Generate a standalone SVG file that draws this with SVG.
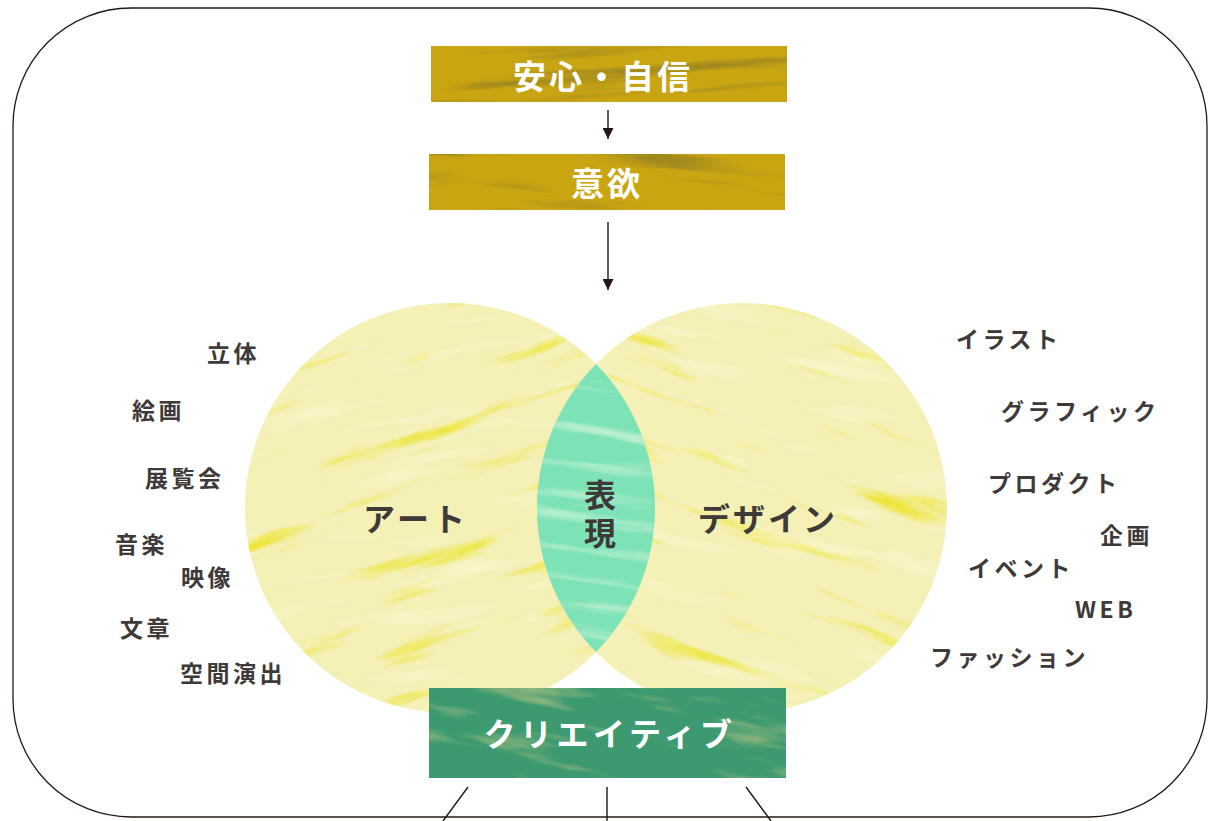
<svg xmlns="http://www.w3.org/2000/svg" width="1208" height="821" viewBox="0 0 1208 821">
  <defs>
    <style>
      .frame { fill: none; stroke: #231815; stroke-width: 1.3; }
      .conn { fill: none; stroke: #231815; stroke-width: 1.4; }
      .boxlabel { font-family: "Noto Sans CJK JP", "Noto Sans", sans-serif; font-weight: 700; fill: #ffffff; text-anchor: middle; dominant-baseline: central; }
      .mainlabel { font-family: "Noto Sans CJK JP", "Noto Sans", sans-serif; font-weight: 700; fill: #3e3a39; text-anchor: middle; dominant-baseline: central; }
      .side { font-family: "Noto Sans CJK JP", "Noto Sans", sans-serif; font-weight: 700; fill: #3e3a39; font-size: 23px; letter-spacing: 3.5px; dominant-baseline: central; }
      .kana { letter-spacing: 3.5px; }
    </style>
    <marker id="arrow" viewBox="0 0 10 10" refX="10" refY="5" markerWidth="11" markerHeight="11" markerUnits="userSpaceOnUse" orient="auto">
      <path d="M0,0 L10,5 L0,10 Z" fill="#231815"/>
    </marker>
    <filter id="texYellow" x="0" y="0" width="1" height="1" color-interpolation-filters="sRGB">
      <feTurbulence type="fractalNoise" baseFrequency="0.006 0.045" numOctaves="4" seed="7"/>
      <feColorMatrix type="matrix" values="0 0 0 0 0.93  0 0 0 0 0.90  0 0 0 0 0.22  4 0 0 0 -2.45"/>
      <feComposite in2="SourceGraphic" operator="in"/>
    </filter>
    <filter id="texLight" x="0" y="0" width="1" height="1" color-interpolation-filters="sRGB">
      <feTurbulence type="fractalNoise" baseFrequency="0.008 0.05" numOctaves="3" seed="21"/>
      <feColorMatrix type="matrix" values="0 0 0 0 0.99  0 0 0 0 0.98  0 0 0 0 0.86  3 0 0 0 -1.6"/>
      <feComposite in2="SourceGraphic" operator="in"/>
    </filter>
    <filter id="texGold" x="0" y="0" width="1" height="1" color-interpolation-filters="sRGB">
      <feTurbulence type="fractalNoise" baseFrequency="0.004 0.06" numOctaves="4" seed="4"/>
      <feColorMatrix type="matrix" values="0 0 0 0 0.58  0 0 0 0 0.50  0 0 0 0 0.13  3 0 0 0 -1.65"/>
      <feComposite in2="SourceGraphic" operator="in"/>
    </filter>
    <filter id="texMint" x="0" y="0" width="1" height="1" color-interpolation-filters="sRGB">
      <feTurbulence type="fractalNoise" baseFrequency="0.006 0.07" numOctaves="3" seed="11"/>
      <feColorMatrix type="matrix" values="0 0 0 0 0.72  0 0 0 0 0.94  0 0 0 0 0.82  3.5 0 0 0 -1.9"/>
      <feComposite in2="SourceGraphic" operator="in"/>
    </filter>
    <filter id="texGreen" x="0" y="0" width="1" height="1" color-interpolation-filters="sRGB">
      <feTurbulence type="fractalNoise" baseFrequency="0.007 0.045" numOctaves="4" seed="5"/>
      <feColorMatrix type="matrix" values="0 0 0 0 0.58  0 0 0 0 0.72  0 0 0 0 0.50  4 0 0 0 -2.2"/>
      <feComposite in2="SourceGraphic" operator="in"/>
    </filter>
    <clipPath id="clipLeft"><circle cx="450" cy="508" r="205"/></clipPath>
    <clipPath id="clipRight"><circle cx="742" cy="508" r="205"/></clipPath>
    <clipPath id="clipBox1"><rect x="431" y="46" width="356" height="56"/></clipPath>
    <clipPath id="clipBox2"><rect x="429" y="154" width="356" height="56"/></clipPath>
    <clipPath id="clipBox3"><rect x="429" y="688" width="357" height="90"/></clipPath>
  </defs>

  <rect width="1208" height="821" fill="#ffffff"/>

  <!-- outer frame -->
  <rect class="frame" x="13" y="8" width="1194" height="809" rx="118" ry="118"/>

  <!-- Venn: art -->
  <g id="venn-art">
    <circle cx="450" cy="508" r="205" fill="#f4f0b6"/>
    <g clip-path="url(#clipLeft)">
      <rect x="200" y="260" width="520" height="500" fill="#000" filter="url(#texYellow)" transform="rotate(-18 450 508)"/>
      <rect x="200" y="260" width="520" height="500" fill="#000" filter="url(#texLight)" opacity="0.55" transform="rotate(-8 450 508)"/>
    </g>
    <text class="mainlabel" x="416" y="517" font-size="32" letter-spacing="4">アート</text>
  </g>

  <!-- Venn: design -->
  <g id="venn-design">
    <circle cx="742" cy="508" r="205" fill="#f4f0b6"/>
    <g clip-path="url(#clipRight)">
      <rect x="480" y="260" width="520" height="500" fill="#000" filter="url(#texYellow)" transform="rotate(20 742 508)"/>
      <rect x="480" y="260" width="520" height="500" fill="#000" filter="url(#texLight)" opacity="0.55" transform="rotate(12 742 508)"/>
    </g>
    <text class="mainlabel" x="768" y="517" font-size="32" letter-spacing="3">デザイン</text>
  </g>

  <!-- Lens: hyogen -->
  <g id="lens-hyogen">
    <g clip-path="url(#clipLeft)">
      <circle cx="742" cy="508" r="205" fill="#7ee2b7"/>
      <g clip-path="url(#clipRight)">
        <rect x="520" y="340" width="160" height="340" fill="#000" filter="url(#texMint)" transform="rotate(8 600 508)"/>
      </g>
    </g>
    <text class="mainlabel" x="600" y="517" font-size="32" letter-spacing="6" writing-mode="vertical-rl">表現</text>
  </g>

  <!-- Top boxes -->
  <g id="box-anshin">
    <rect x="431" y="46" width="356" height="56" fill="#c9a512"/>
    <g clip-path="url(#clipBox1)">
      <rect x="420" y="30" width="380" height="90" fill="#000" filter="url(#texGold)" transform="rotate(-4 609 74)"/>
    </g>
    <text class="boxlabel" x="603" y="75" font-size="33" letter-spacing="3">安心・自信</text>
  </g>

  <g id="box-iyoku">
    <rect x="429" y="154" width="356" height="56" fill="#c9a512"/>
    <g clip-path="url(#clipBox2)">
      <rect x="418" y="140" width="380" height="90" fill="#000" filter="url(#texGold)" transform="rotate(5 607 182)"/>
    </g>
    <text class="boxlabel" x="607" y="182" font-size="33" letter-spacing="3">意欲</text>
  </g>

  <!-- Bottom box -->
  <g id="box-creative">
    <rect x="429" y="688" width="357" height="90" fill="#3d9a70"/>
    <g clip-path="url(#clipBox3)">
      <rect x="410" y="670" width="400" height="130" fill="#000" filter="url(#texGreen)" transform="rotate(10 607 733)"/>
    </g>
    <text class="boxlabel" x="610" y="732" font-size="32" letter-spacing="4.5">クリエイティブ</text>
  </g>

  <!-- connectors -->
  <g id="connectors">
    <line class="conn" x1="608" y1="110" x2="608" y2="139" marker-end="url(#arrow)"/>
    <line class="conn" x1="608" y1="222" x2="608" y2="290" marker-end="url(#arrow)"/>
    <line class="conn" x1="468" y1="787" x2="443" y2="821"/>
    <line class="conn" x1="607" y1="787" x2="607" y2="821"/>
    <line class="conn" x1="746" y1="787" x2="771" y2="821"/>
  </g>

  <!-- side labels: art -->
  <g id="labels-art">
    <text class="side" x="207" y="352">立体</text>
    <text class="side" x="132" y="409">絵画</text>
    <text class="side" x="145" y="477">展覧会</text>
    <text class="side" x="115" y="543">音楽</text>
    <text class="side" x="181" y="576">映像</text>
    <text class="side" x="120" y="627">文章</text>
    <text class="side" x="180" y="672">空間演出</text>
  </g>

  <!-- side labels: design -->
  <g id="labels-design">
    <text class="side kana" x="956" y="338">イラスト</text>
    <text class="side kana" x="1001" y="410">グラフィック</text>
    <text class="side kana" x="988" y="482">プロダクト</text>
    <text class="side" x="1100" y="534">企画</text>
    <text class="side kana" x="968" y="567">イベント</text>
    <text class="side" x="1075" y="608" letter-spacing="1.5">WEB</text>
    <text class="side kana" x="930" y="656">ファッション</text>
  </g>
</svg>
